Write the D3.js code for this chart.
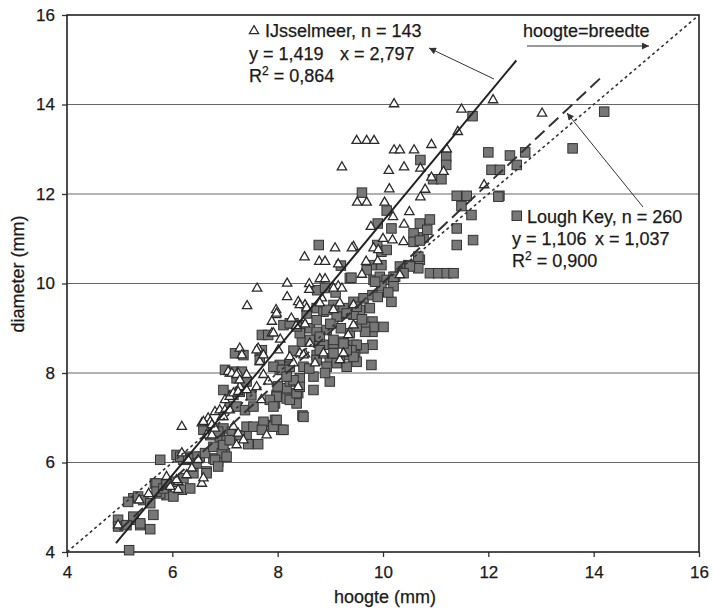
<!DOCTYPE html>
<html><head><meta charset="utf-8">
<script src="https://cdn.jsdelivr.net/npm/d3@7"></script>
<style>
html,body{margin:0;padding:0;background:#fff;}
svg text{font-family:"Liberation Sans",Arial,Helvetica,sans-serif;fill:#1a1a1a;stroke:#1a1a1a;stroke-width:0.25px;}
</style></head>
<body><svg id="c" width="713" height="610"></svg>
<script>
// ---- data (hoogte, diameter in mm) ----
const ijsselmeer = [
[10.21,14.01],[11.49,13.89],[12.09,14.10],[11.42,13.39],[13.02,13.80],
[9.50,13.19],[9.69,13.19],[9.83,13.19],[10.21,12.98],[10.32,12.98],[10.59,12.98],[10.92,13.10],[11.21,13.00],
[9.22,12.60],[10.11,12.52],[10.40,12.60],[10.71,12.57],[11.15,12.50],[10.92,12.37],
[10.12,12.11],[10.71,11.93],[11.92,12.20],[9.51,11.81],[9.69,11.81],[10.03,11.81],
[9.77,11.27],[10.40,11.32],[10.18,10.97],[10.39,10.93],[10.19,11.49],[9.44,10.82],
[9.09,10.79],[9.41,10.79],[9.82,10.79],[9.91,10.75],
[8.51,10.59],[8.79,10.49],[8.90,10.49],[9.15,10.43],[9.68,10.49],
[8.18,10.00],[8.60,9.99],[8.80,10.10],[8.90,10.10],[9.15,9.94],[10.32,10.19],
[7.61,9.89],[8.18,9.70],[7.42,9.50],
[8.39,9.59],[8.52,9.52],[8.60,9.86],[8.84,9.67],[9.06,9.89],[9.22,9.89],
[7.97,9.41],[7.97,9.30],[7.89,9.15],[8.26,9.22],[8.52,9.09],[7.89,8.89],
[9.44,9.07],[9.34,8.85],[7.28,8.55],[7.63,8.55],[8.01,8.51],
[8.42,8.44],[8.52,8.42],[8.71,8.22],[8.87,8.40],[7.66,8.25],
[7.09,7.99],[7.25,7.99],[7.41,7.96],[7.73,7.96],[7.82,7.81],
[7.28,7.69],[7.41,7.62],[7.60,7.69],[7.69,7.40],[8.39,7.69],
[7.79,6.61],[6.18,6.80],[6.56,6.88],[6.68,6.99],[6.72,6.91],
[6.81,7.13],[6.90,7.17],[7.00,7.17],[6.94,7.02],[6.65,6.61],[6.75,6.61],[7.22,6.39],
[6.11,5.57],[6.27,5.72],[6.56,5.53],[6.59,5.65],[4.97,4.60],[5.37,5.16],
[7.98,9.33],[7.92,8.89],[7.32,8.40],[7.60,8.51],[7.73,8.40],
[7.06,8.03],[7.13,7.99],[7.22,7.96],[7.28,7.84],[7.00,7.40],[7.09,7.47],[7.16,7.55],[7.25,7.58],
[6.59,6.91],[6.75,6.84],[6.81,6.76],[6.18,6.21],[6.30,6.06],[6.37,5.87],[6.49,6.06],[6.08,5.61],
[7.16,6.80],[7.25,6.65],[7.35,6.50],[7.09,7.17],[6.97,7.02],[5.89,5.68],[5.96,5.46],[6.11,5.39],
[8.42,9.52],[8.55,9.45],[8.80,9.56],[9.06,9.41],[9.18,9.56],[9.44,9.52],
[8.49,8.40],[8.61,8.66],[8.87,8.44],[9.18,8.29],[9.25,8.44],[8.23,8.36],[8.30,8.22],
[8.05,8.75],[8.35,9.05],[9.60,10.20],[9.90,10.50],[10.00,11.00],[10.50,11.60],[10.80,12.10],[5.55,5.30]
];
const loughKey = [
[11.70,13.74],[14.20,13.84],[13.60,13.02],[10.71,12.76],[11.20,12.83],[11.20,12.65],[10.95,12.33],[11.11,12.33],
[9.60,12.03],[11.40,11.96],[11.59,11.96],[12.21,11.96],
[12.00,12.93],[12.41,12.86],[12.06,12.54],[12.22,12.54],[12.54,12.65],[12.70,12.93],
[10.07,11.63],[11.49,11.73],[9.90,11.34],[10.16,11.23],[10.70,11.34],[10.89,11.43],
[10.58,11.12],[10.77,11.03],[10.58,10.93],[10.70,10.96],[11.40,11.23],[11.40,10.86],[11.68,11.53],[11.71,10.97],
[8.78,10.86],[9.89,10.86],[9.97,10.71],[10.07,10.75],[9.20,10.40],[9.78,10.41],[9.97,10.41],
[10.70,10.53],[10.67,10.34],[10.48,10.41],[10.89,10.23],[11.05,10.23],[11.21,10.23],[11.34,10.23],
[9.37,10.12],[9.69,10.30],[9.82,10.08],[9.94,10.15],[10.07,10.08],[10.23,10.15],
[9.97,9.94],[10.20,9.94],[10.67,10.60],[10.51,10.38],[10.32,10.38],[10.39,10.23],[10.20,10.15],
[9.40,10.13],[9.85,10.04],[8.75,9.85],[8.90,9.90],[9.10,9.80],
[8.74,9.45],[8.87,9.37],[9.06,9.52],[9.25,9.45],[9.44,9.59],[9.63,9.67],[9.75,9.45],
[9.80,9.74],[9.80,9.15],[9.80,8.92],[9.80,8.63],
[8.11,9.07],[8.30,9.11],[8.46,9.07],[8.61,9.00],[8.74,8.92],[8.93,8.96],[7.70,8.85],[7.82,8.85],
[8.46,8.70],[8.68,8.70],[8.87,8.63],[9.06,8.66],[9.25,8.70],[9.44,8.63],[9.63,8.55],[9.47,8.40],[9.31,8.40],
[7.19,8.44],[7.66,8.48],[8.04,8.18],[8.23,8.22],[8.74,8.40],[8.99,8.33],[9.18,8.25],[9.50,8.25],[9.78,8.18],
[7.00,8.07],[7.22,7.88],[7.41,7.81],[6.97,7.62],[7.16,7.51],[7.28,7.58],
[7.95,7.32],[8.17,7.43],[8.36,7.32],[7.98,7.51],[8.17,7.66],[8.39,7.55],[8.23,7.81],[8.42,7.88],
[8.47,7.05],[7.95,6.95],[7.76,6.84],[8.07,6.73],[7.41,6.61],[7.63,6.41],[7.44,6.41],
[6.78,6.76],[6.97,6.76],[7.13,6.69],[7.28,6.61],[6.90,6.58],[7.03,6.50],
[7.00,6.21],[6.78,6.09],[6.87,6.02],[6.52,6.13],[6.40,6.06],[6.21,6.06],[6.08,6.17],[5.77,6.06],
[6.27,6.13],[6.46,6.13],[6.62,6.21],[6.78,6.35],[6.94,6.21],[6.97,6.39],[7.09,6.50],
[6.81,6.06],[6.87,5.91],[6.65,5.80],[6.40,5.76],[6.18,5.39],[6.34,5.42],[5.89,5.27],[5.77,5.31],[5.67,5.53],
[5.26,5.20],[5.35,5.24],[5.45,5.16],[5.58,5.09],[5.64,4.83],
[4.97,4.72],[4.97,4.57],[5.26,4.72],[5.39,4.60],[5.58,4.51],[5.18,4.04],
[10.16,9.59],[9.82,9.03],[10.01,9.03],[9.66,9.03],[9.66,8.92],[9.50,8.63],[9.40,8.51],[9.56,9.41],[9.44,9.30],
[7.35,8.40],[7.70,8.51],[7.66,8.29],[7.16,8.03],[7.32,8.03],
[7.09,7.25],[7.22,7.25],[7.38,7.17],[7.54,7.25],[6.59,6.73],[6.72,6.61],[6.87,6.69],
[7.41,6.80],[7.54,6.80],[7.73,6.91],[7.70,6.73],[7.92,6.80],[7.98,6.95],[8.11,6.73],
[8.49,7.02],[8.23,7.40],[8.36,7.55],[8.42,7.69],[8.30,7.84],[8.17,7.99],[8.04,8.07],
[7.98,7.47],[7.85,7.40],[7.92,7.25],[8.68,7.92],[8.99,7.81],[8.68,7.62],
[8.49,8.14],[8.74,8.29],[8.93,8.14],[9.12,8.22],[9.31,8.14],[9.44,8.36],[9.31,8.51],[9.06,8.44],[8.80,8.51],
[8.61,8.74],[8.42,8.89],[8.36,9.04],[8.23,9.11],[8.80,8.81],[9.06,8.74],[9.25,8.66],[9.37,8.89],[9.50,9.04],
[7.92,8.14],[8.08,8.07],[8.23,8.14],[8.17,7.92],
[6.15,6.13],[6.30,6.09],[6.46,5.98],[7.03,6.13],[6.02,5.57],[5.70,5.53],[6.21,5.65],[6.65,5.76],
[5.70,5.35],[5.83,5.42],[5.89,5.53],[6.02,5.24],[5.16,5.12],[5.26,4.79],[5.13,4.60],[5.39,4.64],
[8.55,9.33],[8.74,9.18],[8.93,9.41],[9.12,9.26],[9.31,9.33],[9.50,9.48],[10.84,11.20],[12.19,11.94],
[8.90,8.00],[9.20,9.00],[9.60,9.20],[9.90,9.70],[10.10,9.80],[8.60,8.10],[8.30,8.50],[8.00,7.70],[7.50,7.50],[9.00,9.10]
];
// regression lines: diameter = a * hoogte - b
const ijFit   = {a:1.419, b:2.797, from:4.93, to:12.53};
const lkFit   = {a:1.106, b:1.037, from:5.00, to:14.20};
const equalLine = [[4,4],[16,16]];
const xTicks = [4,6,8,10,12,14,16];
const yTicks = [4,6,8,10,12,14,16];

// ---- drawing ----
const svg = d3.select("#c");
const x = d3.scaleLinear().domain([4,16]).range([67,699]);
const y = d3.scaleLinear().domain([4,16]).range([552,15]);

const defs = svg.append("defs");
defs.append("marker").attr("id","ah").attr("viewBox","0 0 10 10").attr("refX",10).attr("refY",5)
  .attr("markerWidth",9).attr("markerHeight",7).attr("markerUnits","userSpaceOnUse").attr("orient","auto")
  .append("path").attr("d","M0,0L10,5L0,10z").attr("fill","#333");

// gridlines
svg.append("g").selectAll("line").data(yTicks.slice(1,-1)).join("line")
  .attr("x1",x(4)).attr("x2",x(16)).attr("y1",d=>y(d)).attr("y2",d=>y(d))
  .attr("stroke","#666").attr("stroke-width",1.1);

// axes
const fs = "17px";
const ax = svg.append("g").attr("transform",`translate(${x(4)},0)`)
  .call(d3.axisLeft(y).tickValues(yTicks).tickSize(5).tickPadding(7).tickSizeOuter(0));
const bx = svg.append("g").attr("transform",`translate(0,${y(4)})`)
  .call(d3.axisBottom(x).tickValues(xTicks).tickSize(5).tickPadding(9).tickSizeOuter(0));
[ax,bx].forEach(g=>{
  g.select(".domain").remove();
  g.selectAll("line").attr("stroke","#333").attr("stroke-width",1.3);
  g.selectAll("text").attr("font-size",fs).attr("fill","#1a1a1a")
   .attr("font-family","'Liberation Sans',Arial,sans-serif");
});

// frame
svg.append("rect").attr("x",x(4)).attr("y",y(16)).attr("width",x(16)-x(4)).attr("height",y(4)-y(16))
  .attr("fill","none").attr("stroke","#222").attr("stroke-width",1.6);

// squares (Lough Key)
const s = 9.5;
svg.append("g").selectAll("rect").data(loughKey).join("rect")
  .attr("x",d=>x(d[0])-s/2).attr("y",d=>y(d[1])-s/2).attr("width",s).attr("height",s)
  .attr("fill","#777").attr("stroke","#333").attr("stroke-width",1);

// triangles (IJsselmeer)
const tri = d3.symbol().type(d3.symbolTriangle).size(38);
svg.append("g").selectAll("path").data(ijsselmeer).join("path")
  .attr("d",tri).attr("transform",d=>`translate(${x(d[0])},${y(d[1])})`)
  .attr("fill","#fff").attr("stroke","#2a2a2a").attr("stroke-width",1.3);

// lines
const line = d3.line().x(d=>x(d[0])).y(d=>y(d[1]));
const fitPts = f => [[f.from, f.a*f.from - f.b],[f.to, f.a*f.to - f.b]];
svg.append("path").attr("d",line(equalLine)).attr("fill","none").attr("stroke","#333")
  .attr("stroke-width",1.6).attr("stroke-dasharray","3,3");
svg.append("path").attr("d",line(fitPts(lkFit))).attr("fill","none").attr("stroke","#333")
  .attr("stroke-width",2).attr("stroke-dasharray","13,6");
svg.append("path").attr("d",line(fitPts(ijFit))).attr("fill","none").attr("stroke","#222")
  .attr("stroke-width",2);

// annotations
const T = (tx,ty,str,anchor)=>svg.append("text").attr("x",tx).attr("y",ty).attr("font-size","18px")
  .attr("text-anchor",anchor||"start").text(str);
svg.append("path").attr("d",d3.symbol().type(d3.symbolTriangle).size(38)()).attr("transform","translate(254,31)")
  .attr("fill","#fff").attr("stroke","#2a2a2a").attr("stroke-width",1.2);
T(265,37,"IJsselmeer, n = 143");
T(249,60,"y = 1,419");
T(340,60,"x = 2,797");
const r1 = T(249,82,"R");
r1.append("tspan").attr("dy",-7).attr("font-size","12px").text("2");
r1.append("tspan").attr("dy",7).text(" = 0,864");

T(523,37,"hoogte=breedte");

svg.append("rect").attr("x",512).attr("y",211).attr("width",9.5).attr("height",9.5)
  .attr("fill","#777").attr("stroke","#333");
T(527,223,"Lough Key, n = 260");
T(512,245,"y = 1,106");
T(595,245,"x = 1,037");
const r2 = T(512,267,"R");
r2.append("tspan").attr("dy",-7).attr("font-size","12px").text("2");
r2.append("tspan").attr("dy",7).text(" = 0,900");

// arrows
const arrow = (x1,y1,x2,y2)=>svg.append("line").attr("x1",x1).attr("y1",y1).attr("x2",x2).attr("y2",y2)
  .attr("stroke","#333").attr("stroke-width",1).attr("marker-end","url(#ah)");
arrow(494,79,429,48);
arrow(527,46,649,46);
arrow(643,207,567,113);

// axis titles
svg.append("text").attr("x",385).attr("y",603).attr("text-anchor","middle").attr("font-size","18px").text("hoogte (mm)");
svg.append("text").attr("transform","translate(24,274) rotate(-90)").attr("text-anchor","middle")
  .attr("font-size","18px").text("diameter (mm)");
</script></body></html>
